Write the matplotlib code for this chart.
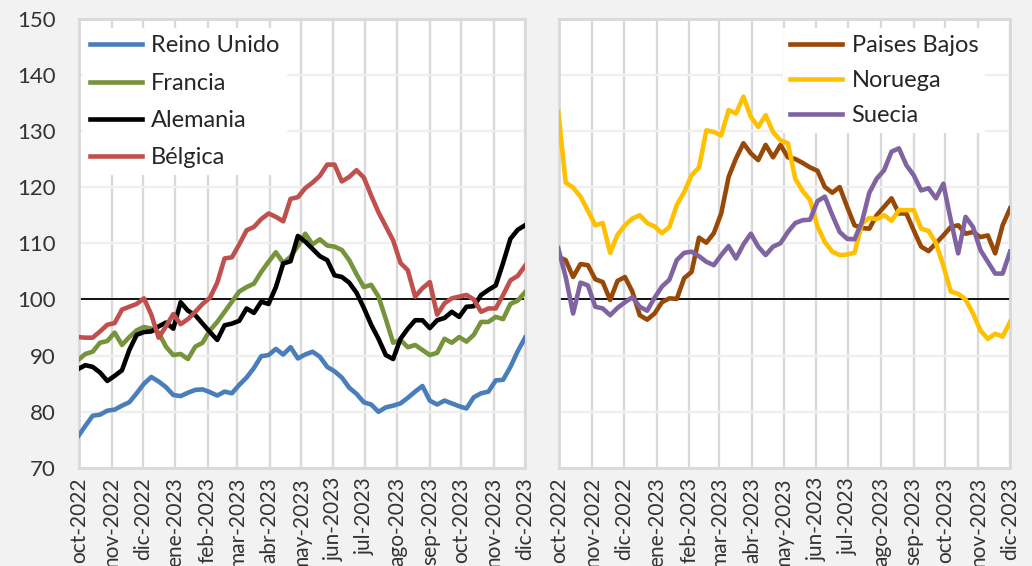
import numpy as np
import pandas as pd
import matplotlib
matplotlib.use("Agg")
import matplotlib.pyplot as plt

plt.rcParams['font.family'] = ['Lato', 'DejaVu Sans']

# weekly index values, oct-2022 .. dic-2023
weeks = pd.date_range('2022-09-30', periods=62, freq='7D')

reino_unido = [75.6, 77.5, 79.3, 79.5, 80.2, 80.4, 81.1, 81.7, 83.3, 85.0,
               86.2, 85.4, 84.4, 83.0, 82.8, 83.4, 83.9, 84.0, 83.5, 82.9,
               83.6, 83.3, 84.8, 86.1, 87.8, 89.9, 90.1, 91.2, 90.2, 91.5,
               89.5, 90.2, 90.7, 89.8, 88.0, 87.2, 86.1, 84.3, 83.2, 81.7,
               81.3, 80.0, 80.8, 81.1, 81.5, 82.5, 83.6, 84.6, 82.0, 81.3,
               82.0, 81.5, 81.0, 80.6, 82.6, 83.3, 83.6, 85.6, 85.7, 88.0,
               90.8, 93.2]
francia = [89.2, 90.3, 90.7, 92.3, 92.6, 94.1, 91.9, 93.3, 94.5, 95.1,
           94.8, 94.1, 91.6, 90.1, 90.3, 89.4, 91.6, 92.3, 94.5, 96.0,
           97.8, 99.6, 101.4, 102.2, 102.8, 104.9, 106.7, 108.4, 106.5, 107.6,
           109.5, 111.7, 109.8, 110.7, 109.6, 109.4, 108.8, 107.0, 104.5, 102.2,
           102.6, 100.5, 96.5, 92.3, 92.8, 91.5, 91.9, 91.0, 90.1, 90.5,
           93.0, 92.3, 93.3, 92.5, 93.7, 96.0, 96.0, 96.9, 96.5, 99.2,
           99.8, 101.3]
alemania = [87.6, 88.3, 88.0, 87.0, 85.5, 86.4, 87.4, 91.0, 93.7, 94.2,
            94.3, 95.2, 95.9, 94.8, 99.5, 98.0, 97.2, 95.7, 94.2, 92.8,
            95.4, 95.7, 96.2, 98.4, 97.6, 99.6, 99.2, 102.2, 106.4, 106.8,
            111.3, 110.3, 109.0, 107.7, 107.0, 104.3, 104.0, 103.0, 101.2, 98.5,
            95.5, 93.0, 90.1, 89.4, 93.0, 94.8, 96.3, 96.3, 94.9, 96.3,
            96.7, 97.8, 96.9, 98.7, 98.8, 100.8, 101.7, 102.5, 106.5, 110.8,
            112.4, 113.2]
belgica = [93.3, 93.2, 93.2, 94.3, 95.5, 95.8, 98.2, 98.7, 99.2, 100.2,
           97.3, 93.2, 95.2, 97.4, 95.6, 96.5, 97.8, 99.2, 100.3, 103.0,
           107.3, 107.5, 109.8, 112.3, 112.9, 114.3, 115.3, 114.7, 113.9, 117.9,
           118.2, 119.8, 120.8, 122.0, 124.0, 124.0, 121.0, 121.8, 123.0, 121.7,
           118.5, 115.5, 113.0, 110.5, 106.5, 105.2, 100.5, 102.0, 103.1, 97.3,
           99.3, 100.2, 100.5, 100.8, 100.0, 97.8, 98.4, 98.4, 100.8, 103.4,
           104.2, 106.0]

paises_bajos = [107.6, 107.0, 104.0, 106.3, 106.1, 103.6, 103.1, 99.9, 103.3, 104.0,
                101.4, 97.2, 96.4, 97.5, 99.5, 100.2, 100.1, 103.8, 104.9, 111.0,
                110.1, 111.8, 115.3, 121.8, 125.1, 127.8, 126.0, 124.8, 127.5, 125.3,
                127.5, 125.3, 125.0, 124.3, 123.5, 122.9, 120.0, 119.0, 120.0, 116.5,
                113.2, 112.7, 112.6, 115.0, 116.5, 118.0, 115.3, 115.3, 112.3, 109.4,
                108.6, 110.0, 111.4, 112.9, 113.2, 111.7, 112.0, 111.1, 111.4, 108.2,
                113.2, 116.2]
noruega = [133.4, 120.8, 119.9, 118.3, 115.8, 113.2, 113.6, 108.3, 111.5, 113.2,
           114.4, 115.0, 113.6, 113.0, 111.8, 112.9, 116.8, 119.1, 122.1, 123.5,
           130.1, 129.8, 129.2, 133.7, 133.1, 136.1, 132.5, 130.7, 132.8, 129.8,
           128.3, 127.8, 121.5, 119.3, 117.7, 113.0, 110.2, 108.5, 107.9, 108.0,
           108.3, 113.5, 114.5, 114.3, 115.0, 114.0, 115.9, 115.9, 115.9, 112.6,
           112.2, 110.0, 106.0, 101.4, 101.0, 100.0, 97.5, 94.5, 93.0, 93.9,
           93.4, 96.0]
suecia = [109.1, 104.0, 97.5, 103.0, 102.5, 98.7, 98.4, 97.2, 98.5, 99.5,
          100.4, 98.7, 98.0, 100.3, 102.3, 103.5, 107.0, 108.3, 108.5, 107.7,
          106.7, 106.1, 107.9, 109.5, 107.3, 109.8, 111.7, 109.4, 107.9, 109.4,
          110.0, 112.0, 113.6, 114.1, 114.2, 117.5, 118.3, 115.0, 112.0, 110.8,
          110.7, 113.8, 119.0, 121.5, 123.0, 126.3, 126.9, 123.9, 122.1, 119.4,
          119.8, 118.0, 120.6, 114.1, 108.2, 114.7, 112.9, 108.8, 106.7, 104.6,
          104.6, 108.5]

month_ticks = pd.date_range('2022-10-01', '2023-12-01', freq='MS')
month_labels = ['oct-2022', 'nov-2022', 'dic-2022', 'ene-2023', 'feb-2023',
                'mar-2023', 'abr-2023', 'may-2023', 'jun-2023', 'jul-2023',
                'ago-2023', 'sep-2023', 'oct-2023', 'nov-2023', 'dic-2023']
y_ticks = list(range(70, 151, 10))

left_series = [("Reino Unido", reino_unido, "#4a7ebb"),
               ("Francia", francia, "#77933c"),
               ("Alemania", alemania, "#000000"),
               ("Bélgica", belgica, "#c0504d")]
right_series = [("Paises Bajos", paises_bajos, "#984807"),
                ("Noruega", noruega, "#ffc000"),
                ("Suecia", suecia, "#8064a2")]

fig = plt.figure(figsize=(10.32, 5.66), dpi=100, facecolor='#f2f2f2')
ax1 = fig.add_axes([0.0766, 0.1731, 0.4322, 0.7942])
ax2 = fig.add_axes([0.5420, 0.1731, 0.4367, 0.7942])

text_col = '#333333'

for ax, series in ((ax1, left_series), (ax2, right_series)):
    ax.set_facecolor('white')
    for name, vals, col in series:
        ax.plot(weeks, vals, color=col, lw=3.3, label=name, zorder=3)
    ax.axhline(100, color='black', lw=1.3, zorder=2)
    ax.set_ylim(70, 150)
    ax.set_yticks(y_ticks)
    ax.set_xlim(month_ticks[0], month_ticks[-1])
    ax.set_xticks(month_ticks)
    ax.set_xticklabels(month_labels, rotation=90, fontsize=15, color=text_col)
    ax.tick_params(axis='x', length=0, pad=6.5)
    ax.tick_params(axis='y', length=0, pad=17)
    ax.set_axisbelow(True)
    ax.grid(axis='x', color='#d9d9d9', lw=1.7)
    ax.grid(axis='y', color='#efefef', lw=1.7)
    for sp in ax.spines.values():
        sp.set_color('#d9d9d9')
        sp.set_linewidth(2)

ax1.set_yticklabels([str(v) for v in y_ticks], fontsize=16, color=text_col)
ax2.tick_params(axis='y', labelleft=False)

leg_kw = dict(frameon=True, facecolor='white', edgecolor='none', framealpha=1,
              fancybox=False, handlelength=2.2, handletextpad=0.4,
              borderpad=0.3, borderaxespad=0,
              prop={'family': 'Lato', 'size': 17})
l1 = ax1.legend(loc='upper left', bbox_to_anchor=(0.008, 0.978),
                labelspacing=0.69, **leg_kw)
l2 = ax2.legend(loc='upper right', bbox_to_anchor=(0.945, 0.978),
                labelspacing=0.58, **leg_kw)
for leg in (l1, l2):
    for t in leg.get_texts():
        t.set_color('#262626')

fig.savefig('out.png', dpi=100, facecolor=fig.get_facecolor())
